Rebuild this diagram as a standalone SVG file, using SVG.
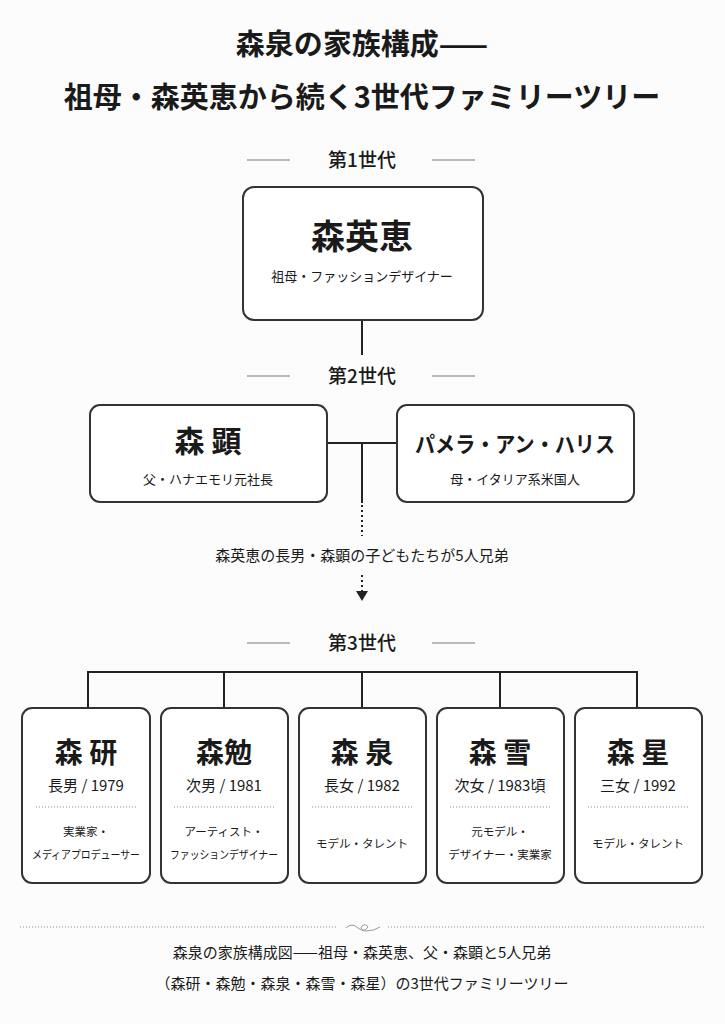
<svg xmlns="http://www.w3.org/2000/svg" width="725" height="1024" viewBox="0 0 725 1024">
<style>
text{font-family:"Noto Sans CJK JP","Noto Sans CJK SC",sans-serif;fill:#1a1a1a;text-anchor:middle}
.t{font-weight:700;font-size:29px}
.g{font-size:19px;font-weight:500}
.box{fill:#fff;stroke:#333;stroke-width:2}
.n1{font-size:34px;font-weight:700}
.n2{font-size:30px;font-weight:700}
.n3{font-size:28px;font-weight:700}
.s{font-size:13px}
.r{font-size:11.5px}
.y{font-size:15px}
.ln{stroke:#222;stroke-width:2;fill:none}
.thin{stroke:#777;stroke-width:1}
.dot{stroke:#888;stroke-width:1;stroke-dasharray:1 2}
</style>
<defs><marker id="ah" markerWidth="12" markerHeight="12" refX="6" refY="9" orient="0" markerUnits="userSpaceOnUse"><path d="M0,0 L12,0 L6,10 Z" fill="#222"/></marker></defs>
<rect width="725" height="1024" fill="#fcfcfc"/>
<text class="t" x="362" y="55">森泉の家族構成——</text>
<text class="t" x="362" y="108">祖母・森英恵から続く3世代ファミリーツリー</text>
<g id="gen1"><line class="thin" x1="247" y1="160" x2="290" y2="160"/><line class="thin" x1="432" y1="160" x2="475" y2="160"/><text class="g" x="362" y="167">第1世代</text></g>
<g id="gen2"><line class="thin" x1="247" y1="376" x2="290" y2="376"/><line class="thin" x1="432" y1="376" x2="475" y2="376"/><text class="g" x="362" y="383">第2世代</text></g>
<g id="gen3"><line class="thin" x1="247" y1="643" x2="290" y2="643"/><line class="thin" x1="432" y1="643" x2="475" y2="643"/><text class="g" x="362" y="650">第3世代</text></g>
<g id="connectors">
<line class="ln" x1="362" y1="320" x2="362" y2="355"/>
<line class="ln" x1="327" y1="443" x2="397" y2="443"/>
<line class="ln" x1="362" y1="443" x2="362" y2="503"/>
<line class="ln" x1="362" y1="505" x2="362" y2="536" stroke-dasharray="2 3"/>
<line class="ln" x1="362" y1="575" x2="362" y2="600" stroke-dasharray="2 3" marker-end="url(#ah)"/>
<path class="ln" d="M88,708 V672 H637 V708 M224,672 V708 M362,672 V708 M500,672 V708"/>
</g>
<text x="362" y="561" style="font-size:15px">森英恵の長男・森顕の子どもたちが5人兄弟</text>
<g id="n-hanae"><rect class="box" x="243" y="187" width="240" height="133" rx="11"/><text class="n1" x="362" y="249">森英恵</text><text class="s" x="362" y="281">祖母・ファッションデザイナー</text></g>
<g id="n-akira"><rect class="box" x="90" y="405" width="237" height="97" rx="10"/><text class="n2" x="208" y="452">森 顕</text><text class="s" x="208" y="484">父・ハナエモリ元社長</text></g>
<g id="n-pamela"><rect class="box" x="397" y="405" width="237" height="97" rx="10"/><text class="n2" x="515" y="452" style="font-size:22px" textLength="200" lengthAdjust="spacingAndGlyphs">パメラ・アン・ハリス</text><text class="s" x="515" y="484">母・イタリア系米国人</text></g>
<g id="n-ken"><rect class="box" x="22" y="708" width="128" height="175" rx="10"/><text class="n3" x="86" y="763">森 研</text><text class="y" x="86" y="791">長男 / 1979</text><line class="dot" x1="36" y1="807" x2="136" y2="807"/><text class="r" x="86" y="836">実業家・</text><text class="r" x="86" y="859" textLength="108" lengthAdjust="spacingAndGlyphs">メディアプロデューサー</text></g>
<g id="n-tsutomu"><rect class="box" x="161" y="708" width="127" height="175" rx="10"/><text class="n3" x="224" y="763">森勉</text><text class="y" x="224" y="791">次男 / 1981</text><line class="dot" x1="174" y1="807" x2="274" y2="807"/><text class="r" x="224" y="836">アーティスト・</text><text class="r" x="224" y="859" textLength="108" lengthAdjust="spacingAndGlyphs">ファッションデザイナー</text></g>
<g id="n-izumi"><rect class="box" x="299" y="708" width="127" height="175" rx="10"/><text class="n3" x="362" y="763">森 泉</text><text class="y" x="362" y="791">長女 / 1982</text><line class="dot" x1="312" y1="807" x2="412" y2="807"/><text class="r" x="362" y="848">モデル・タレント</text></g>
<g id="n-yuki"><rect class="box" x="437" y="708" width="127" height="175" rx="10"/><text class="n3" x="500" y="763">森 雪</text><text class="y" x="500" y="791">次女 / 1983頃</text><line class="dot" x1="450" y1="807" x2="550" y2="807"/><text class="r" x="500" y="836">元モデル・</text><text class="r" x="500" y="859">デザイナー・実業家</text></g>
<g id="n-sei"><rect class="box" x="575" y="708" width="127" height="175" rx="10"/><text class="n3" x="638" y="763">森 星</text><text class="y" x="638" y="791">三女 / 1992</text><line class="dot" x1="588" y1="807" x2="688" y2="807"/><text class="r" x="638" y="848">モデル・タレント</text></g>
<g id="footer">
<line class="dot" x1="20" y1="927" x2="338" y2="927"/><line class="dot" x1="388" y1="927" x2="706" y2="927"/>
<path d="M346,928 q6,-6 12,0 q6,5 10,-1 q-2,-4 -6,-1 q-3,4 4,5 q8,0 14,-4" fill="none" stroke="#999" stroke-width="1"/>
<text x="362" y="958" style="font-size:15px">森泉の家族構成図——祖母・森英恵、父・森顕と5人兄弟</text>
<text x="362" y="989" style="font-size:15px">（森研・森勉・森泉・森雪・森星）の3世代ファミリーツリー</text>
</g>
</svg>
